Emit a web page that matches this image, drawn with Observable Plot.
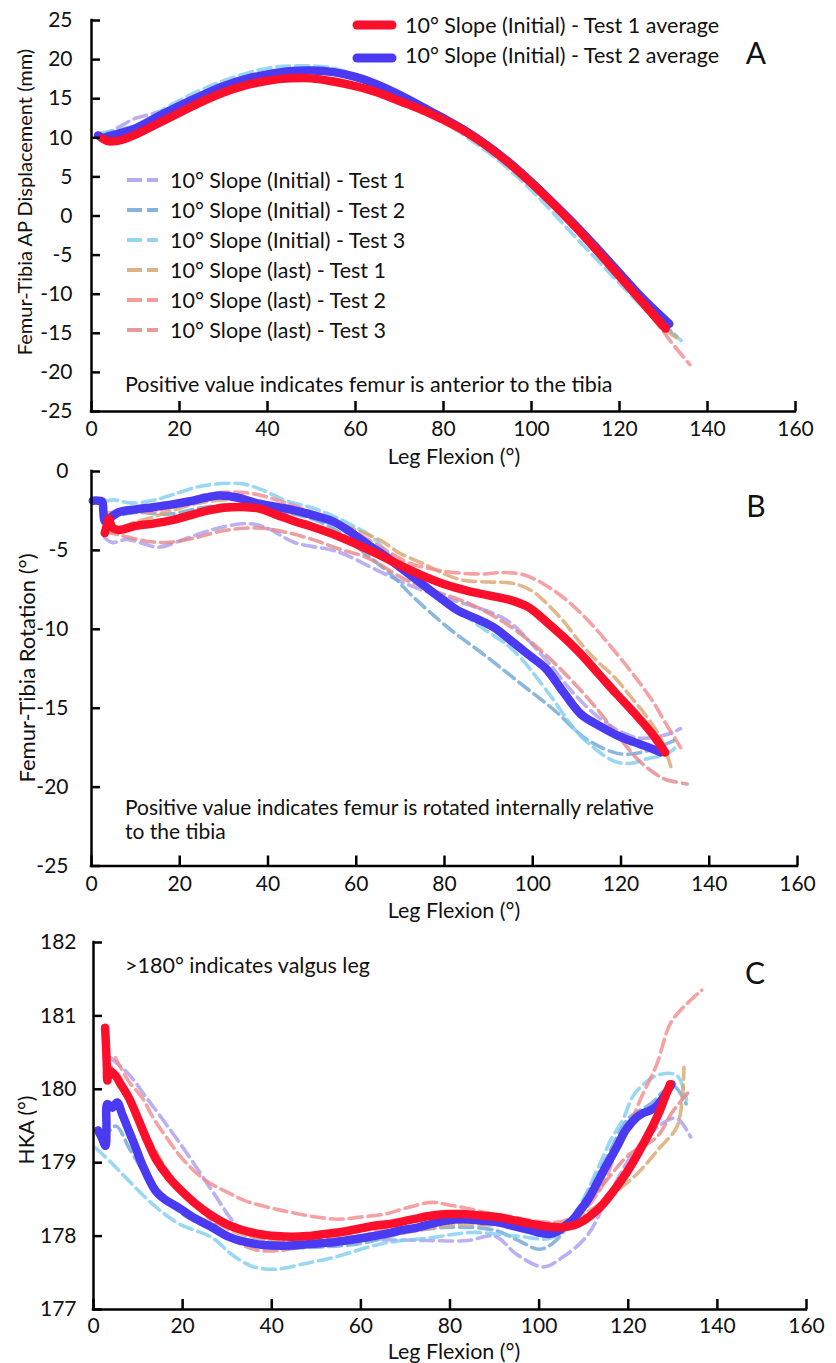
<!DOCTYPE html>
<html><head><meta charset="utf-8">
<script src="https://cdn.jsdelivr.net/npm/d3@7"></script>
<script src="https://cdn.jsdelivr.net/npm/@observablehq/plot@0.6"></script>
<style>
body{margin:0;background:#fff;}
#chart{width:836px;height:1363px;}
#chart svg{display:block;}
</style></head><body><div id="chart"></div>
<script>
// ---------- shared categories / labels ----------
const xTicks = [0, 20, 40, 60, 80, 100, 120, 140, 160];
const xTitle = "Leg Flexion (°)";
const avgNames = ["10° Slope (Initial) - Test 1 average", "10° Slope (Initial) - Test 2 average"];
const testNames = [
  "10° Slope (Initial) - Test 1", "10° Slope (Initial) - Test 2", "10° Slope (Initial) - Test 3",
  "10° Slope (last) - Test 1", "10° Slope (last) - Test 2", "10° Slope (last) - Test 3"
];
const avgColors = ["#fb0f2a", "#4a3af2"];
const testColors = ["#a99cf0", "#6fa6d6", "#7fcdef", "#d9a56f", "#f48a8c", "#e5878a"];

// ---------- Panel A: AP displacement ----------
const aTicks = [-25, -20, -15, -10, -5, 0, 5, 10, 15, 20, 25];
const aAvg1 = [[2.5,9.9],[3.5,9.6],[5,9.55],[7,9.75],[10,10.4],[15,11.8],[20,13.2],[25,14.6],[30,15.8],[35,16.7],[40,17.3],[45,17.6],[50,17.6],[55,17.2],[60,16.6],[65,15.8],[70,14.7],[75,13.6],[80,12.3],[85,10.8],[90,8.9],[95,6.7],[100,4.2],[105,1.5],[110,-1.4],[115,-4.5],[120,-7.7],[125,-10.9],[130.5,-14.4]];
const aAvg2 = [[1.5,10.3],[2.5,10.0],[4,10.2],[6,10.5],[10,11.2],[15,12.7],[20,14.1],[25,15.4],[30,16.6],[35,17.5],[40,18.1],[45,18.5],[50,18.6],[55,18.4],[60,17.8],[65,16.8],[70,15.5],[75,14.0],[80,12.5],[85,10.9],[90,9.0],[95,6.8],[100,4.3],[105,1.6],[110,-1.2],[115,-4.2],[120,-7.3],[125,-10.4],[131.3,-13.8]];
const aIni1 = [[2,10.2],[6,11.3],[10,12.5],[14,13.1],[20,14.2],[30,16.4],[40,18.0],[50,18.5],[60,17.6],[70,15.3],[80,12.3],[90,8.7],[100,4.0],[110,-1.6],[120,-7.6],[127,-12.0],[132,-15.0]];
const aIni2 = [[2,10.0],[6,10.6],[10,11.3],[20,14.0],[30,16.7],[40,18.3],[50,18.8],[60,17.9],[70,15.4],[80,12.3],[90,8.6],[100,3.8],[110,-1.8],[120,-8.0],[128,-12.8],[133,-15.4]];
const aIni3 = [[2,10.6],[6,11.0],[10,11.6],[20,14.8],[30,17.3],[40,18.9],[47,19.2],[55,18.9],[65,16.8],[75,13.8],[85,10.2],[92.5,7.1],[100,3.3],[110,-2.7],[120,-8.6],[127,-12.6],[134,-15.9]];
const aLast1 = [[3,9.8],[10,10.6],[20,13.4],[30,16.0],[40,17.4],[50,17.8],[60,16.7],[70,14.6],[80,12.1],[90,8.7],[100,4.0],[110,-1.6],[120,-7.9],[130,-14.3],[133,-15.6]];
const aLast2 = [[3,9.7],[10,10.7],[14,12.4],[20,13.5],[30,16.0],[40,17.3],[50,17.6],[60,16.5],[70,14.4],[80,11.9],[90,8.6],[100,3.9],[110,-1.8],[120,-8.1],[128,-13.3],[132,-16.3],[136,-19.0]];
const aLast3 = [[3,9.9],[10,10.5],[20,13.3],[30,15.9],[40,17.2],[50,17.5],[60,16.6],[70,14.6],[80,12.0],[90,8.8],[100,4.1],[110,-1.5],[120,-7.8],[126,-11.9],[130,-14.8]];

// ---------- Panel B: rotation ----------
const bTicks = [-25, -20, -15, -10, -5, 0];
const bAvg1 = [[3.0,-3.9],[3.5,-3.4],[4.0,-3.0],[4.6,-3.5],[6,-3.7],[10,-3.45],[14,-3.3],[18,-3.1],[22,-2.8],[26,-2.5],[30,-2.3],[34,-2.25],[38,-2.35],[42,-2.75],[46,-3.15],[50,-3.5],[55,-4.0],[60,-4.6],[65,-5.25],[70,-5.95],[75,-6.6],[80,-7.15],[85,-7.55],[90,-7.85],[95,-8.15],[99,-8.6],[103,-9.5],[107,-10.5],[111,-11.6],[115,-12.85],[119,-14.1],[123,-15.3],[127,-16.6],[130,-17.8]];
const bAvg2 = [[0.3,-1.85],[1.5,-1.85],[2.4,-1.9],[2.7,-2.6],[3.0,-3.15],[4.0,-3.0],[6,-2.6],[10,-2.4],[14,-2.26],[18,-2.1],[22,-1.9],[26,-1.65],[29,-1.52],[33,-1.65],[37,-1.97],[41,-2.2],[45,-2.4],[50,-2.75],[55,-3.2],[59,-3.9],[63,-4.7],[67,-5.45],[71,-6.3],[75,-7.15],[79,-8.0],[83,-8.8],[87,-9.3],[91,-9.85],[95,-10.7],[99,-11.6],[103,-12.5],[107,-14.0],[111,-15.4],[115,-16.1],[119,-16.7],[123,-17.15],[126,-17.45],[129,-17.8]];
const bIni1 = [[3,-4.2],[4.7,-4.5],[8,-4.3],[12,-4.6],[15.2,-4.8],[20,-4.4],[25,-3.9],[30,-3.5],[35.6,-3.3],[40,-3.6],[46,-4.5],[56,-5.1],[65,-6.3],[72,-7.2],[80,-8.0],[86,-8.5],[94,-9.4],[101.8,-11.55],[109.4,-14.1],[115,-15.6],[120,-16.5],[124.5,-16.9],[130,-16.7],[133.5,-16.3]];
const bIni2 = [[3,-3.0],[6,-2.8],[10,-2.6],[17.5,-2.7],[25,-2.3],[32,-2.1],[40,-2.4],[50,-3.0],[57,-4.0],[62,-5.2],[67.8,-6.5],[73,-7.97],[80.7,-9.87],[89.7,-11.77],[97.3,-13.45],[104.8,-15.1],[112.4,-17.0],[120,-17.9],[126,-17.7],[132,-17.05]];
const bIni3 = [[3,-1.9],[5,-1.8],[9,-2.0],[13.8,-1.84],[18,-1.5],[23.6,-1.0],[28,-0.8],[34.2,-0.78],[39,-1.2],[44,-1.84],[50,-2.3],[54.6,-2.8],[59,-3.4],[63.6,-4.16],[68,-5.4],[75,-7.0],[82,-8.6],[89,-10.0],[95.5,-11.3],[104,-14.2],[108,-15.8],[111,-16.8],[118,-18.3],[122,-18.5],[126,-18.2],[130.5,-17.9],[133,-17.3]];
const bLast1 = [[3,-3.6],[4.7,-3.85],[9,-3.3],[13.8,-2.9],[18,-2.5],[23.6,-2.05],[30,-1.8],[36,-1.9],[42,-2.4],[50,-2.9],[58,-3.5],[65.5,-4.37],[70,-5.2],[75.3,-5.85],[80,-6.5],[84.4,-6.9],[90,-7.0],[95.7,-7.1],[100,-7.6],[103.3,-8.4],[107,-9.5],[110.9,-10.9],[114.5,-12.0],[118.4,-13.0],[122,-14.2],[126,-15.6],[129,-16.9],[131.3,-18.7]];
const bLast2 = [[3,-2.6],[8,-2.6],[15,-2.5],[21,-2.0],[27.4,-1.4],[32,-1.3],[36.4,-1.4],[42,-1.8],[50,-2.6],[56,-3.3],[62,-4.2],[68,-5.2],[72,-5.8],[76.9,-6.17],[82,-6.4],[88.2,-6.5],[93,-6.4],[97.3,-6.5],[101,-6.9],[104,-7.4],[107,-8.0],[111,-9.0],[114.7,-10.1],[118,-11.2],[121.5,-12.4],[124.5,-13.5],[127.5,-14.7],[130,-15.9],[132,-16.8],[133.5,-17.5]];
const bLast3 = [[3,-3.8],[6,-4.0],[12.2,-4.4],[17,-4.5],[23.6,-4.2],[29,-3.8],[34.2,-3.6],[39,-3.6],[44,-3.85],[50,-4.3],[56,-4.9],[62.8,-5.5],[70.8,-6.8],[78,-7.6],[85,-8.3],[92,-9.3],[100,-10.9],[108,-13.0],[115,-15.2],[120,-17.0],[124,-18.3],[127,-19.0],[130,-19.5],[135,-19.8]];

// ---------- Panel C: HKA ----------
const cTicks = [177, 178, 179, 180, 181, 182];
const cAvg1 = [[2.6,180.84],[2.8,180.6],[3.0,180.3],[3.1,180.12],[3.6,180.25],[4.9,180.19],[6,180.08],[7.9,179.89],[10,179.6],[11.7,179.35],[14,179.05],[16.9,178.8],[20,178.6],[22.9,178.44],[26,178.3],[29.6,178.17],[33,178.09],[37,178.03],[41,178.0],[44.5,177.99],[48,178.0],[52,178.03],[56,178.06],[59.5,178.1],[63,178.14],[67,178.17],[71,178.22],[76,178.28],[80,178.3],[83,178.3],[87,178.28],[90.5,178.26],[94,178.22],[98,178.17],[102,178.13],[105.4,178.12],[108,178.15],[110,178.21],[112,178.3],[114.4,178.44],[116.5,178.6],[118.9,178.8],[121,179.0],[123.4,179.26],[125.5,179.5],[127.1,179.71],[128.3,179.9],[129.4,180.07]];
const cAvg2 = [[1.0,179.44],[1.8,179.35],[2.7,179.23],[2.9,179.5],[3.1,179.8],[4.2,179.75],[5.3,179.82],[6.5,179.65],[7.9,179.44],[9.5,179.2],[10.9,178.98],[13.9,178.62],[16,178.5],[19.1,178.39],[22,178.27],[26.6,178.12],[30,178.0],[34.1,177.92],[38,177.88],[43,177.87],[48,177.89],[54.3,177.92],[60,177.97],[65.5,178.03],[69,178.08],[72.9,178.12],[76,178.17],[78.9,178.21],[83,178.23],[87,178.21],[90.5,178.19],[94,178.14],[98,178.08],[100.5,178.04],[102.5,178.03],[104,178.06],[105.4,178.12],[107.5,178.22],[109.2,178.35],[111,178.5],[112.9,178.71],[115,178.95],[117.4,179.21],[119.5,179.45],[121.9,179.62],[123.5,179.68],[124.9,179.71],[126.5,179.78],[127.9,179.89],[129.7,180.07]];
const cIni1 = [[3.8,180.43],[8,180.2],[11.7,179.9],[16,179.55],[20.6,179.16],[26.6,178.62],[31.8,178.17],[36,177.98],[45,177.9],[55,177.95],[65,177.95],[75,177.94],[84,177.94],[90,178.0],[95,177.75],[101,177.58],[105,177.7],[110.7,178.0],[116,178.6],[122,179.2],[128.6,179.57],[131,179.6],[134,179.35]];
const cIni2 = [[2,179.3],[5,179.5],[8,179.2],[12,178.8],[16,178.5],[20,178.3],[30,178.0],[40,177.85],[50,177.85],[60,177.9],[70,178.05],[80,178.12],[90,178.08],[95,177.95],[100,177.82],[103,177.9],[106,178.1],[110,178.5],[115,179.05],[120,179.6],[125,179.8],[130,180.05],[133,179.8]];
const cIni3 = [[0.5,179.2],[4,179.0],[7.2,178.8],[13.2,178.44],[19.1,178.17],[26.6,177.98],[31,177.75],[36,177.58],[41.2,177.55],[47,177.62],[53.9,177.71],[65,177.9],[76,177.98],[85,178.05],[95,178.0],[103,177.98],[108,178.3],[113,178.9],[116,179.3],[118.9,179.6],[121,179.9],[123.4,180.07],[127,180.2],[130.9,180.19],[133.1,179.85]];
const cLast1 = [[4,180.3],[10,179.6],[20,178.6],[30,178.1],[40,177.95],[50,177.95],[60,178.0],[70,178.05],[80,178.15],[90,178.15],[100,178.1],[105,178.15],[110,178.3],[115,178.5],[122,178.85],[127,179.2],[131,179.5],[132.5,180.3]];
const cLast2 = [[4.9,180.43],[8,180.1],[10.9,179.89],[13.5,179.6],[16.9,179.3],[20,179.05],[25.1,178.76],[30,178.6],[34.1,178.48],[40,178.38],[44.5,178.32],[50,178.26],[55,178.23],[60,178.26],[65.5,178.3],[70,178.38],[76,178.46],[80,178.42],[83,178.39],[88,178.32],[94,178.26],[100,178.2],[105,178.2],[110,178.35],[114.4,178.71],[117,179.1],[120.4,179.53],[123,179.9],[126.4,180.34],[129.4,180.89],[132.4,181.12],[136.5,181.35]];
const cLast3 = [[4,180.3],[8,179.8],[13.2,179.2],[20,178.6],[25,178.3],[30,178.0],[36,177.82],[41,177.8],[46.4,177.85],[55,177.95],[60,178.0],[70,178.2],[80,178.3],[90,178.2],[100,178.12],[105,178.15],[110,178.4],[115,178.75],[120,179.1],[126.4,179.35],[130,179.7],[133.8,179.98]];

// ---------- helpers ----------
const FONT = "Lato, 'Open Sans', sans-serif";
const W = 836;

function deco(items) {
  return () => {
    const g = d3.create("svg:g");
    for (const it of items) {
      if (it.t === "text") {
        const t = g.append("text")
          .attr("x", it.x).attr("y", it.y)
          .attr("font-size", it.size || 21.5)
          .attr("font-family", FONT)
          .attr("fill", "#111")
          .attr("dominant-baseline", "central")
          .attr("text-anchor", it.anchor || "start")
          .text(it.text);
        if (it.rotate) t.attr("transform", `rotate(${it.rotate},${it.x},${it.y})`);
      } else {
        g.append("line")
          .attr("x1", it.x1).attr("x2", it.x2).attr("y1", it.y).attr("y2", it.y)
          .attr("stroke", it.stroke).attr("stroke-width", it.width)
          .attr("stroke-linecap", it.cap || "butt")
          .attr("stroke-opacity", it.opacity == null ? 1 : it.opacity)
          .attr("stroke-dasharray", it.dash || null);
      }
    }
    return g.node();
  };
}

function panel({height, mt, mb, ml, mr, yDomain, yTicks, tests, avgs, padY, padX, items}) {
  const pw = W - ml - mr, ph = height - mt - mb;
  const marks = [];
  tests.forEach((s, i) => marks.push(Plot.line(s, {
    x: d => d[0], y: d => d[1], stroke: testColors[i], strokeWidth: 3.6,
    strokeDasharray: "13,6", strokeOpacity: 0.8, curve: "catmull-rom"
  })));
  [1, 0].forEach(i => marks.push(Plot.line(avgs[i], {
    x: d => d[0], y: d => d[1], stroke: avgColors[i], strokeWidth: 8.5,
    strokeLinecap: "round", strokeLinejoin: "round", curve: "catmull-rom"
  })));
  marks.push(
    Plot.ruleX([0], {stroke: "black", strokeWidth: 2.5, strokeLinecap: "square"}),
    Plot.ruleY([yDomain[0]], {stroke: "black", strokeWidth: 2.5, strokeLinecap: "square"}),
    Plot.tickY(yTicks, {y: d => d, stroke: "black", strokeWidth: 2.5, insetRight: pw - 9}),
    Plot.tickX(xTicks, {x: d => d, stroke: "black", strokeWidth: 2.5, insetTop: ph - 10}),
    Plot.axisY({ticks: yTicks, tickSize: 0, tickPadding: padY, tickFormat: d => String(d), fontSize: 21, label: null}),
    Plot.axisX({ticks: xTicks, tickSize: 0, tickPadding: padX, tickFormat: d => String(d), fontSize: 21, label: null}),
    deco(items)
  );
  return Plot.plot({
    width: W, height, marginTop: mt, marginBottom: mb, marginLeft: ml, marginRight: mr,
    x: {domain: [0, 160]}, y: {domain: yDomain},
    style: {fontFamily: FONT, fontSize: "21px", color: "#111", background: "white", overflow: "visible"},
    marks
  });
}

// ---------- build ----------
const legendA = [
  {t: "line", x1: 357, x2: 392, y: 25, stroke: avgColors[0], width: 9, cap: "round"},
  {t: "text", x: 405, y: 25, text: avgNames[0]},
  {t: "line", x1: 357, x2: 392, y: 58, stroke: avgColors[1], width: 9, cap: "round"},
  {t: "text", x: 405, y: 55, text: avgNames[1]},
  ...testNames.flatMap((n, i) => [
    {t: "line", x1: 127, x2: 158, y: 180 + 30 * i, stroke: testColors[i], width: 4, dash: "15,5", opacity: 0.85},
    {t: "text", x: 170, y: 180 + 30 * i, text: n}
  ]),
  {t: "text", x: 125, y: 384, text: "Positive value indicates femur is anterior to the tibia"},
  {t: "text", x: 756, y: 52, text: "A", size: 30, anchor: "middle"},
  {t: "text", x: 24, y: 202, text: "Femur-Tibia AP Displacement (mm)", size: 20, anchor: "middle", rotate: -90},
  {t: "text", x: 454, y: 456, text: xTitle, size: 21.5, anchor: "middle"}
];
const itemsB = [
  {t: "text", x: 125, y: 346, text: "Positive value indicates femur is rotated internally relative", size: 21},
  {t: "text", x: 125, y: 370, text: "to the tibia", size: 21},
  {t: "text", x: 756, y: 45, text: "B", size: 30, anchor: "middle"},
  {t: "text", x: 26, y: 208, text: "Femur-Tibia Rotation (°)", size: 22, anchor: "middle", rotate: -90},
  {t: "text", x: 454, y: 450, text: xTitle, size: 21.5, anchor: "middle"}
];
const itemsC = [
  {t: "text", x: 125, y: 47, text: ">180° indicates valgus leg"},
  {t: "text", x: 755, y: 54, text: "C", size: 30, anchor: "middle"},
  {t: "text", x: 25, y: 212, text: "HKA (°)", size: 21, anchor: "middle", rotate: -90},
  {t: "text", x: 454, y: 433, text: xTitle, size: 21.5, anchor: "middle"}
];

const chart = document.getElementById("chart");
chart.append(panel({height: 460, mt: 20, mb: 49, ml: 91, mr: 41, yDomain: [-25, 25], yTicks: aTicks,
  tests: [aIni1, aIni2, aIni3, aLast1, aLast2, aLast3], avgs: [aAvg1, aAvg2], padY: 19, padX: 10, items: legendA}));
chart.append(panel({height: 458, mt: 11, mb: 52.5, ml: 91, mr: 39, yDomain: [-25, 0], yTicks: bTicks,
  tests: [bIni1, bIni2, bIni3, bLast1, bLast2, bLast3], avgs: [bAvg1, bAvg2], padY: 23, padX: 10, items: itemsB}));
chart.append(panel({height: 445, mt: 24, mb: 54, ml: 93, mr: 30, yDomain: [177, 182], yTicks: cTicks,
  tests: [cIni1, cIni2, cIni3, cLast1, cLast2, cLast3], avgs: [cAvg1, cAvg2], padY: 17, padX: 9, items: itemsC}));
</script></body></html>
